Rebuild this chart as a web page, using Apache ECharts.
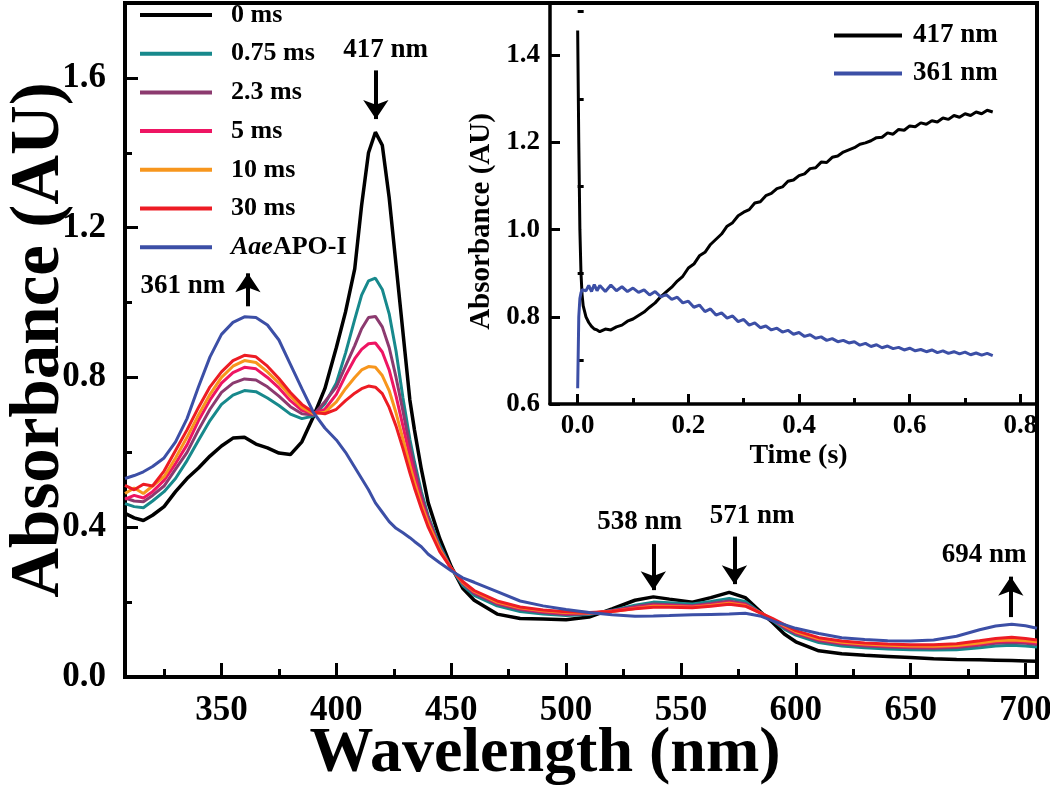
<!DOCTYPE html>
<html>
<head>
<meta charset="utf-8">
<script src="https://cdn.jsdelivr.net/npm/echarts@6/dist/echarts.min.js"></script>
<style>html,body{margin:0;padding:0;background:#fff}#c{width:1050px;height:800px}</style>
</head>
<body>
<div id="c"></div>
<script>
// ---------- DATA ----------
const wavelengths = [308,312,316,320,325,330,335,340,345,350,355,360,365,370,375,380,385,390,395,400,404,408,411,414,417,420,423,426,429,432,434,437,440,445,450,455,460,470,480,490,500,510,520,530,538,545,555,563,571,578,585,590,595,600,610,620,630,640,650,660,670,680,687,694,700,705];
const abs0ms   = [.437,.425,.418,.432,.455,.495,.530,.558,.590,.617,.638,.640,.622,.612,.598,.594,.628,.695,.770,.880,.975,1.09,1.26,1.40,1.455,1.42,1.28,1.10,.92,.74,.66,.555,.465,.370,.295,.237,.205,.168,.156,.155,.153,.160,.182,.205,.214,.208,.200,.212,.226,.212,.172,.145,.115,.094,.070,.062,.058,.055,.052,.049,.047,.046,.045,.044,.043,.042];
const abs075ms = [.463,.455,.452,.470,.495,.530,.578,.632,.685,.728,.753,.765,.762,.745,.725,.702,.690,.697,.730,.785,.865,.955,1.02,1.058,1.065,1.035,.97,.87,.745,.635,.575,.495,.43,.352,.29,.245,.218,.190,.175,.168,.164,.167,.178,.192,.200,.198,.195,.202,.210,.202,.170,.150,.128,.112,.092,.083,.078,.075,.073,.072,.073,.078,.083,.085,.083,.080];
const abs23ms  = [.478,.470,.468,.485,.510,.555,.600,.660,.715,.760,.785,.796,.793,.775,.750,.722,.703,.700,.735,.775,.830,.885,.930,.960,.963,.935,.880,.800,.710,.615,.560,.485,.425,.345,.29,.250,.223,.195,.180,.172,.167,.169,.177,.188,.195,.193,.190,.196,.203,.196,.170,.152,.132,.116,.097,.088,.083,.080,.078,.077,.079,.085,.090,.092,.090,.087];
const abs5ms   = [.475,.485,.478,.495,.525,.570,.620,.685,.740,.785,.813,.827,.823,.800,.772,.738,.712,.703,.715,.755,.805,.850,.875,.890,.892,.868,.820,.750,.670,.590,.540,.470,.415,.342,.29,.252,.227,.198,.183,.175,.170,.170,.176,.185,.191,.190,.188,.193,.199,.193,.170,.153,.135,.119,.100,.091,.086,.083,.081,.080,.082,.088,.094,.096,.094,.091];
const abs10ms  = [.490,.505,.490,.510,.535,.585,.640,.700,.755,.800,.830,.845,.840,.815,.785,.750,.720,.703,.707,.735,.770,.800,.820,.829,.827,.805,.765,.705,.635,.565,.520,.460,.410,.340,.29,.253,.229,.200,.185,.177,.172,.171,.175,.183,.189,.188,.186,.191,.197,.191,.170,.154,.137,.121,.102,.093,.088,.085,.083,.082,.084,.091,.097,.099,.097,.094];
const abs30ms  = [.512,.500,.515,.510,.550,.605,.660,.720,.775,.815,.845,.859,.855,.830,.797,.760,.728,.707,.703,.715,.738,.758,.770,.777,.774,.757,.720,.670,.610,.545,.505,.450,.400,.335,.29,.255,.231,.203,.187,.179,.174,.172,.175,.182,.186,.186,.185,.189,.194,.189,.170,.156,.140,.124,.105,.096,.091,.088,.086,.086,.089,.097,.103,.106,.103,.099];
const absAPO   = [.530,.538,.548,.562,.585,.628,.690,.775,.855,.915,.947,.962,.960,.940,.900,.835,.770,.707,.665,.633,.600,.560,.530,.500,.465,.440,.415,.397,.385,.372,.362,.348,.328,.305,.284,.265,.253,.228,.203,.190,.180,.172,.166,.162,.163,.164,.166,.167,.168,.170,.162,.150,.140,.130,.116,.105,.100,.097,.096,.099,.109,.126,.136,.141,.137,.130];
const seriesNames = ['0 ms','0.75 ms','2.3 ms','5 ms','10 ms','30 ms','AaeAPO-I'];
const xTickLabels = [350,400,450,500,550,600,650,700];
const yTickLabels = [0,0.4,0.8,1.2,1.6];
const peakLabels = ['417 nm','361 nm','538 nm','571 nm','694 nm'];

const insetTime = [0,0.002,0.004,0.006,0.008,0.01,0.015,0.02,0.025,0.03,0.035,0.04,0.05,0.06,0.07,0.08,0.09,
0.10,0.11,0.12,0.13,0.14,0.15,0.16,0.17,0.18,0.19,0.20,0.21,0.22,0.23,0.24,0.25,0.26,0.27,0.28,0.29,0.30,0.31,0.32,0.33,0.34,0.35,0.36,0.37,0.38,0.39,0.40,0.41,0.42,0.43,0.44,0.45,0.46,0.47,0.48,0.49,0.50,0.51,0.52,0.53,0.54,0.55,0.56,0.57,0.58,0.59,0.60,0.61,0.62,0.63,0.64,0.65,0.66,0.67,0.68,0.69,0.70,0.71,0.72,0.73,0.74,0.75];
const inset417 = [1.457,1.20,1.00,0.90,0.85,0.825,0.80,0.787,0.778,0.772,0.77,0.766,0.772,0.770,0.777,0.781,0.79,
0.795,0.803,0.811,0.822,0.832,0.846,0.857,0.868,0.882,0.893,0.912,0.921,0.94,0.948,0.966,0.978,0.99,1.008,1.016,1.032,1.04,1.046,1.061,1.064,1.078,1.083,1.094,1.098,1.111,1.114,1.124,1.128,1.14,1.142,1.155,1.154,1.166,1.169,1.178,1.183,1.188,1.196,1.199,1.204,1.211,1.212,1.222,1.219,1.23,1.228,1.238,1.236,1.245,1.242,1.25,1.247,1.256,1.253,1.262,1.258,1.266,1.262,1.27,1.266,1.274,1.27];
const inset361 = [0.636,0.80,0.842,0.855,0.862,0.866,0.86,0.872,0.858,0.874,0.86,0.872,0.858,0.873,0.86,0.869,0.858,
0.866,0.856,0.862,0.85,0.858,0.846,0.851,0.84,0.845,0.832,0.836,0.822,0.827,0.812,0.818,0.804,0.809,0.797,0.802,0.789,0.794,0.781,0.786,0.775,0.779,0.77,0.774,0.765,0.769,0.76,0.764,0.755,0.759,0.751,0.754,0.746,0.75,0.743,0.746,0.74,0.743,0.735,0.739,0.732,0.736,0.729,0.733,0.727,0.73,0.724,0.728,0.722,0.725,0.72,0.724,0.718,0.722,0.716,0.72,0.715,0.719,0.713,0.717,0.712,0.716,0.711];
const insetNames = ['417 nm','361 nm'];
const insetXTicks = [0,0.2,0.4,0.6,0.8];
const insetYTicks = [0.6,0.8,1.0,1.2,1.4];

// ---------- CHART ----------
const FONT = '"Liberation Serif","Times New Roman",serif';
const colors = ['#000000','#17898c','#8c3a6f','#ee1563','#f7961d','#ed1c24','#3c4fa6'];
const mainValues = [abs0ms,abs075ms,abs23ms,abs5ms,abs10ms,abs30ms,absAPO];

function pairs(xs, ys){ return xs.map((x,i)=>[x, ys[i]]); }

const axisLineStyle = {color:'#000', width:4};
const txt = (size)=>({color:'#000', fontFamily:FONT, fontWeight:'bold', fontSize:size});

const chart = echarts.init(document.getElementById('c'), null, {renderer:'canvas'});

const series = mainValues.map((vals,i)=>({
  name: seriesNames[i], type:'line', xAxisIndex:0, yAxisIndex:0,
  data: pairs(wavelengths, vals), symbol:'none', showSymbol:false,
  lineStyle:{color:colors[i], width: i===0?3.5:3}, itemStyle:{color:colors[i]},
  z: 2+i, animation:false
}));

// annotations (text + arrows) in data space
series.push({
  name:'annot', type:'scatter', xAxisIndex:0, yAxisIndex:0, symbolSize:1, silent:true, animation:false,
  itemStyle:{opacity:0},
  data:[
    {name:peakLabels[0], value:[421.5,1.675]},
    {name:peakLabels[1], value:[333.2,1.045]},
    {name:peakLabels[2], value:[532,0.415]},
    {name:peakLabels[3], value:[581,0.43]},
    {name:peakLabels[4], value:[682,0.325]}
  ],
  label:{show:true, position:'inside', formatter:p=>p.name, opacity:1, textBorderWidth:0, ...txt(27)},
  markLine:{
    silent:true, animation:false, symbol:['none','arrow'], symbolSize:19,
    lineStyle:{color:'#000', width:4, type:'solid', opacity:1},
    itemStyle:{color:'#000'},
    label:{show:false},
    data:[
      [{coord:[417.2,1.62]},{coord:[417.2,1.49]}],
      [{coord:[361.5,0.99]},{coord:[361.5,1.078]}],
      [{coord:[538,0.355]},{coord:[538,0.232]}],
      [{coord:[573.3,0.375]},{coord:[573.3,0.248]}],
      [{coord:[693.6,0.16]},{coord:[693.6,0.268]}]
    ]
  }
});

series.push({
  name:insetNames[0], type:'line', xAxisIndex:2, yAxisIndex:2, data:pairs(insetTime, inset417),
  symbol:'none', lineStyle:{color:'#000', width:3}, itemStyle:{color:'#000'}, animation:false, z:10
});
series.push({
  name:insetNames[1], type:'line', xAxisIndex:2, yAxisIndex:2, data:pairs(insetTime, inset361),
  symbol:'none', lineStyle:{color:'#3c4fa6', width:3}, itemStyle:{color:'#3c4fa6'}, animation:false, z:11
});

const option = {
  backgroundColor:'#fff',
  animation:false,
  grid:[
    {left:125, top:3, right:13, bottom:123, show:true, borderColor:'#000', borderWidth:4, backgroundColor:'transparent', containLabel:false, outerBoundsMode:'none'},
    {left:550, top:3, right:13, bottom:396, show:false, containLabel:false, outerBoundsMode:'none'}
  ],
  legend:[
    {
      data:seriesNames, orient:'vertical', left:140, top:2, padding:0,
      icon:'rect', itemWidth:72, itemHeight:4, itemGap:12.7,
      textStyle:{...txt(26), lineHeight:26, padding:[0,0,0,14],
        rich:{i:{fontStyle:'italic', fontWeight:'bold', fontFamily:FONT, fontSize:26, color:'#000'}}},
      formatter:n=> n==='AaeAPO-I' ? '{i|Aae}APO-I' : n,
      selectedMode:false
    },
    {
      data:insetNames, orient:'vertical', left:834, top:22, padding:0,
      icon:'rect', itemWidth:68, itemHeight:4, itemGap:11,
      textStyle:{...txt(27), lineHeight:26, padding:[0,0,0,6]},
      selectedMode:false
    }
  ],
  xAxis:[
    {
      type:'value', gridIndex:0, min:308, max:705, position:'bottom',
      axisLine:{show:true, onZero:false, lineStyle:axisLineStyle},
      axisTick:{show:true, inside:true, length:14, lineStyle:{color:'#000', width:3}, customValues:xTickLabels},
      axisLabel:{show:true, customValues:xTickLabels, margin:16, ...txt(35)},
      splitLine:{show:false},
      name:'Wavelength (nm)', nameLocation:'middle', nameGap:45, nameMoveOverlap:false,
      nameTextStyle:{...txt(64), padding:[0,72,0,0], verticalAlign:'top'}
    },
    {
      type:'value', gridIndex:0, min:308, max:705, position:'bottom',
      axisLine:{show:false},
      axisTick:{show:true, inside:true, length:8, lineStyle:{color:'#000', width:3}, customValues:[325,375,425,475,525,575,625,675]},
      axisLabel:{show:false}, splitLine:{show:false}
    },
    {
      type:'value', gridIndex:1, min:-0.05, max:0.83, position:'bottom',
      axisLine:{show:true, onZero:false, lineStyle:{color:'#000', width:3.5}},
      axisTick:{show:true, inside:true, length:10, lineStyle:{color:'#000', width:3}, customValues:insetXTicks},
      axisLabel:{show:true, customValues:insetXTicks, margin:9, formatter:v=>v.toFixed(1), ...txt(27)},
      splitLine:{show:false},
      name:'Time (s)', nameLocation:'middle', nameGap:38, nameMoveOverlap:false,
      nameTextStyle:{...txt(28), verticalAlign:'top', padding:[0,0,0,10]}
    },
    {
      type:'value', gridIndex:1, min:-0.05, max:0.83, position:'bottom',
      axisLine:{show:false},
      axisTick:{show:true, inside:true, length:6, lineStyle:{color:'#000', width:3}, customValues:[0.1,0.3,0.5,0.7]},
      axisLabel:{show:false}, splitLine:{show:false}
    }
  ],
  yAxis:[
    {
      type:'value', gridIndex:0, min:0, max:1.8, position:'left',
      axisLine:{show:true, onZero:false, lineStyle:axisLineStyle},
      axisTick:{show:true, inside:true, length:13, lineStyle:{color:'#000', width:3}, customValues:yTickLabels},
      axisLabel:{show:true, customValues:yTickLabels, margin:19, formatter:v=>v.toFixed(1), ...txt(35)},
      splitLine:{show:false},
      name:'Absorbance (AU)', nameLocation:'middle', nameGap:50, nameRotate:90, nameMoveOverlap:false,
      nameTextStyle:{...txt(69), verticalAlign:'bottom'}
    },
    {
      type:'value', gridIndex:0, min:0, max:1.8, position:'left',
      axisLine:{show:false},
      axisTick:{show:true, inside:true, length:7, lineStyle:{color:'#000', width:3}, customValues:[0.2,0.6,1.0,1.4]},
      axisLabel:{show:false}, splitLine:{show:false}
    },
    {
      type:'value', gridIndex:1, min:0.6, max:1.52, position:'left',
      axisLine:{show:true, onZero:false, lineStyle:{color:'#000', width:3.5}},
      axisTick:{show:true, inside:true, length:10, lineStyle:{color:'#000', width:3}, customValues:insetYTicks},
      axisLabel:{show:true, customValues:insetYTicks, margin:10, formatter:v=>v.toFixed(1), ...txt(27)},
      splitLine:{show:false},
      name:'Absorbance (AU)', nameLocation:'middle', nameGap:54, nameRotate:90, nameMoveOverlap:false,
      nameTextStyle:{...txt(29), padding:[0,36,0,0]}
    },
    {
      type:'value', gridIndex:1, min:0.6, max:1.52, position:'left',
      axisLine:{show:false},
      axisTick:{show:true, inside:true, length:6, lineStyle:{color:'#000', width:3}, customValues:[0.7,0.9,1.1,1.3,1.5]},
      axisLabel:{show:false}, splitLine:{show:false}
    }
  ],
  series:series
};
chart.setOption(option);
</script>
</body>
</html>
